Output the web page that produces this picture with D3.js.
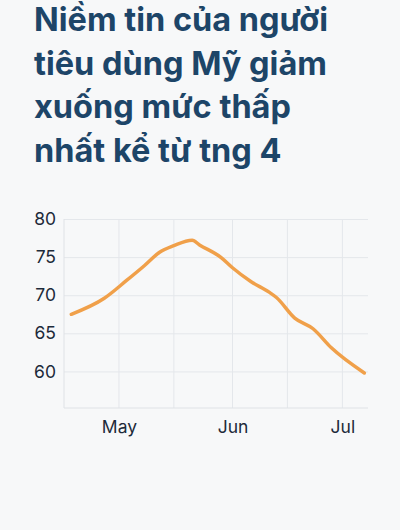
<!DOCTYPE html>
<html>
<head>
<meta charset="utf-8">
<script src="https://cdn.jsdelivr.net/npm/d3@7"></script>
<style>
  html, body { margin: 0; padding: 0; background: #f7f8f9; }
  svg { display: block; }
</style>
</head>
<body>
<svg id="chart"></svg>
<script>
// Title lines (kept exactly as shown)
const titleLines = [
  "Niềm tin của người",
  "tiêu dùng Mỹ giảm",
  "xuống mức thấp",
  "nhất kể từ tng 4"
];

// Series: date strings and index values
const dates = [
  "2024-04-18", "2024-04-27", "2024-05-03", "2024-05-08", "2024-05-12",
  "2024-05-16", "2024-05-21", "2024-05-23", "2024-05-29", "2024-06-01",
  "2024-06-06", "2024-06-11", "2024-06-13", "2024-06-18", "2024-06-23",
  "2024-06-28", "2024-07-07"
];
const values = [
  67.5, 69.6, 71.9, 73.9, 75.6,
  76.5, 77.2, 76.6, 74.9, 73.6,
  71.8, 70.4, 69.7, 67.0, 65.6,
  63.1, 59.8
];

// Axis setup
const yTicks = [60, 65, 70, 75, 80];
const xDomain = ["2024-04-16", "2024-07-08"];
const gridDates = ["2024-05-01", "2024-05-16", "2024-06-01", "2024-06-16", "2024-07-01"];
const monthTicks = ["2024-05-01", "2024-06-01", "2024-07-01"];

const width = 400, height = 530;
const margin = { top: 219, right: 32, bottom: 122, left: 64 };
const w = width - margin.left - margin.right;
const h = height - margin.top - margin.bottom;

const parse = d3.timeParse("%Y-%m-%d");
const data = dates.map((d, i) => ({ date: parse(d), value: values[i] }));

const svg = d3.select("#chart").attr("width", width).attr("height", height);

svg.append("rect").attr("width", width).attr("height", height).attr("fill", "#f7f8f9");

// Title
svg.append("g")
  .selectAll("text")
  .data(titleLines)
  .join("text")
  .attr("x", 34)
  .attr("y", (d, i) => 31 + i * 43.5)
  .style("font-family", "Inter, 'Noto Sans', sans-serif")
  .style("font-size", "32.5px")
  .style("font-weight", "700")
  .attr("fill", "#1d4568")
  .text((d) => d);

const g = svg.append("g").attr("transform", `translate(${margin.left},${margin.top})`);

const x = d3.scaleTime().domain(xDomain.map(parse)).range([0, w]);
const y = d3.scaleLinear().domain([55.2, 80]).range([h, 0]);

// Horizontal gridlines + y labels
g.append("g")
  .call(d3.axisLeft(y).tickValues(yTicks).tickSize(-w).tickPadding(8))
  .call((s) => s.select(".domain").remove())
  .call((s) => s.selectAll(".tick line").attr("stroke", "#e4e7eb").attr("stroke-width", 1))
  .call((s) => s.selectAll(".tick text")
    .attr("fill", "#1d2a3a")
    .style("font-family", "Inter, 'Noto Sans', sans-serif")
    .style("font-size", "17.5px"));

// Vertical gridlines
g.append("g")
  .selectAll("line")
  .data(gridDates.map(parse))
  .join("line")
  .attr("x1", (d) => x(d)).attr("x2", (d) => x(d))
  .attr("y1", 0).attr("y2", h)
  .attr("stroke", "#e4e7eb");

// x axis labels
g.append("g")
  .attr("transform", `translate(0,${h})`)
  .call(d3.axisBottom(x).tickValues(monthTicks.map(parse)).tickFormat(d3.timeFormat("%b")).tickSize(0).tickPadding(13))
  .call((s) => s.select(".domain").remove())
  .call((s) => s.selectAll(".tick text")
    .attr("fill", "#1d2a3a")
    .style("font-family", "Inter, 'Noto Sans', sans-serif")
    .style("font-size", "17.5px"));

// left and bottom frame
g.append("line").attr("x1", 0).attr("x2", 0).attr("y1", 0).attr("y2", h).attr("stroke", "#dfe2e6");
g.append("line").attr("x1", 0).attr("x2", w).attr("y1", h).attr("y2", h).attr("stroke", "#dfe2e6");

// Line
const line = d3.line()
  .x((d) => x(d.date))
  .y((d) => y(d.value))
  .curve(d3.curveMonotoneX);

g.append("path")
  .datum(data)
  .attr("fill", "none")
  .attr("stroke", "#f0a04a")
  .attr("stroke-width", 3.5)
  .attr("stroke-linecap", "round")
  .attr("stroke-linejoin", "round")
  .attr("d", line);
</script>
</body>
</html>
